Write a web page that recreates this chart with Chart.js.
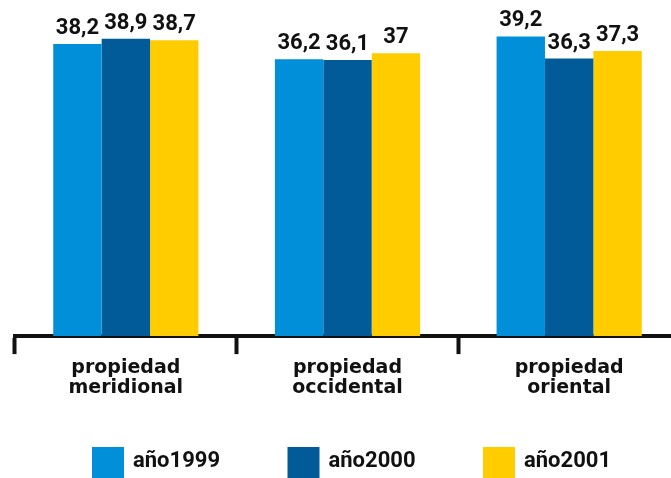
<!DOCTYPE html>
<html>
<head>
<meta charset="utf-8">
<script src="https://cdn.jsdelivr.net/npm/chart.js@4.4.1/dist/chart.umd.min.js"></script>
<style>
  html, body { margin: 0; padding: 0; background: #fff; overflow: hidden; }
  #wrap { width: 680px; height: 478px; position: relative; }
</style>
</head>
<body>
<div id="wrap"><canvas id="barChart"></canvas></div>
<script>
const categories = [['propiedad', 'meridional'], ['propiedad', 'occidental'], ['propiedad', 'oriental']];
const years = ['año1999', 'año2000', 'año2001'];
const values1999 = [38.2, 36.2, 39.2];
const values2000 = [38.9, 36.1, 36.3];
const values2001 = [38.7, 37, 37.3];
const yearColors = ['#008fd8', '#005b98', '#ffcc00'];

// value above each bar, with decimal comma
const valueLabels = {
    id: 'valueLabels',
    afterDatasetsDraw(chart) {
        const ctx = chart.ctx;
        ctx.save();
        ctx.font = 'bold 22px Roboto';
        ctx.fillStyle = '#111';
        ctx.textAlign = 'center';
        ctx.textBaseline = 'alphabetic';
        chart.data.datasets.forEach((ds, i) => {
            chart.getDatasetMeta(i).data.forEach((bar, j) => {
                ctx.fillText(String(ds.data[j]).replace('.', ','), bar.x, bar.y - 10);
            });
        });
        ctx.restore();
    }
};

// legend row along the bottom edge
const yearLegend = {
    id: 'yearLegend',
    afterDraw(chart) {
        const ctx = chart.ctx;
        ctx.save();
        ctx.font = 'bold 22px Roboto';
        ctx.textBaseline = 'middle';
        chart.data.datasets.forEach((ds, i) => {
            const x = 92 + i * 195.5;
            ctx.fillStyle = ds.backgroundColor;
            ctx.fillRect(x, 447, 32, 31);
            ctx.fillStyle = '#111';
            ctx.fillText(ds.label, x + 41, 461);
        });
        ctx.restore();
    }
};

const series = [values1999, values2000, values2001];

new Chart(document.getElementById('barChart'), {
    type: 'bar',
    data: {
        labels: categories,
        datasets: series.map((vals, i) => ({
            label: years[i],
            data: vals,
            backgroundColor: yearColors[i],
            borderWidth: 0
        }))
    },
    options: {
        responsive: true,
        maintainAspectRatio: false,
        animation: false,
        layout: { padding: { left: 15, right: 0, top: 15, bottom: 76 } },
        datasets: { bar: { categoryPercentage: 0.655, barPercentage: 1 } },
        plugins: {
            legend: { display: false },
            tooltip: { enabled: false }
        },
        scales: {
            x: {
                grid: {
                    display: true,
                    offset: true,
                    drawOnChartArea: false,
                    drawTicks: true,
                    tickLength: 18,
                    tickWidth: 4,
                    tickColor: '#111'
                },
                border: { display: true, width: 4, color: '#111' },
                ticks: {
                    color: '#111',
                    padding: 4,
                    font: { family: 'DejaVu Sans', weight: 'bold', size: 19, lineHeight: 1.05 }
                }
            },
            y: { display: false, min: 0, max: 42 }
        }
    },
    plugins: [valueLabels, yearLegend]
});
</script>
</body>
</html>
